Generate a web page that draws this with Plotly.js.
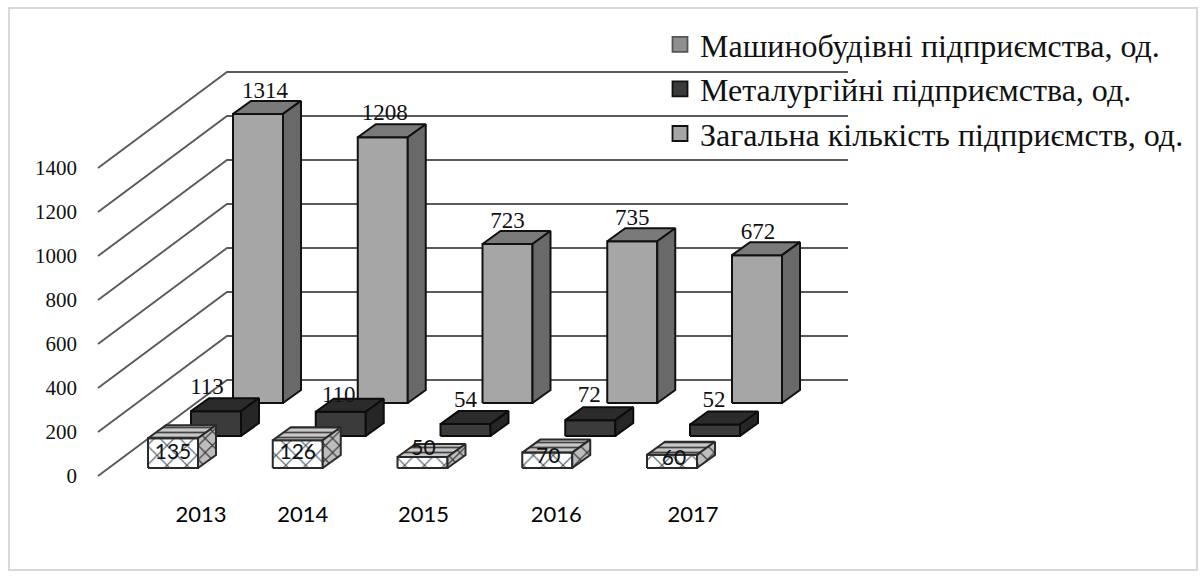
<!DOCTYPE html>
<html><head><meta charset="utf-8">
<script src="https://cdn.plot.ly/plotly-3.0.1.min.js"></script>
<style>html,body{margin:0;padding:0;background:#fff}#c{width:1201px;height:580px}</style>
</head><body><div id="c"></div>
<script>
const years = ['2013','2014','2015','2016','2017'];
const machine = [135,126,50,70,60];
const metal = [113,110,54,72,52];
const total = [1314,1208,723,735,672];
const yTicks = [0,200,400,600,800,1000,1200,1400];
const names = ['Машинобудівні підприємства, од.','Металургійні підприємства, од.','Загальна кількість підприємств, од.'];

// label nudges (pixels) relative to each box
const yearShift = [28,5,1,9,21];
const machineLabelShift = [[0,15],[0,13],[1,-7],[1,5],[2,5]];
const metalLabelShift = [[-18,-10],[-11,-3],[-9,-10],[-10,-11],[-10,-10]];
const totalLabelShift = [[-2,-9],[-7,-10],[-9,-9],[-9,-9],[-8,-9]];

// oblique projection scales
const W=1201,H=580,L=78,B=499;
const pxPerCat=124.75, pxPerVal=0.22, xOrigin=148, yOrigin=476;
const X=p=>(p-xOrigin)/pxPerCat, DX=p=>p/pxPerCat, DY=p=>p/pxPerVal;
const boxW=50, depthX=18, depthY=13;
const seriesOffset=[[0,8],[43,40],[85,73]]; // floor position of each row

function faces(vals,row){
  const f={front:{x:[],y:[]},top:{x:[],y:[]},side:{x:[],y:[]}};
  const [ox,oy]=seriesOffset[row];
  const push=(o,pts)=>{pts.forEach(p=>{o.x.push(p[0]);o.y.push(p[1]);});o.x.push(null);o.y.push(null);};
  vals.forEach((v,i)=>{
    const x0=i+DX(ox), x1=x0+DX(boxW), xd=DX(depthX), yb=DY(oy), yd=DY(depthY);
    const b=yb, t=yb+v;
    push(f.front,[[x0,b],[x1,b],[x1,t],[x0,t],[x0,b]]);
    push(f.top,[[x0,t],[x1,t],[x1+xd,t+yd],[x0+xd,t+yd],[x0,t]]);
    push(f.side,[[x1,b],[x1+xd,b+yd],[x1+xd,t+yd],[x1,t],[x1,b]]);
  });
  return f;
}
function faceTrace(o,color,lineColor,pattern){
  const t={x:o.x,y:o.y,mode:'lines',fill:'toself',fillcolor:color,line:{color:lineColor,width:2},
    showlegend:false,hoverinfo:'skip',type:'scatter'};
  if(pattern) t.fillpattern=pattern;
  return t;
}
// wall and floor grid
const gx=[],gy=[];
yTicks.forEach(v=>{
  gx.push(X(98),X(227),X(848),null);
  gy.push(v,v+DY(96),v+DY(96),null);
});
const traces=[];
// legend entries
const swatch=['#8f8f8f','#3b3b3b','#a6a6a6'];
names.forEach((n,i)=>traces.push({x:[null],y:[null],type:'scatter',mode:'markers',name:n,legendgroup:'g'+i,
  marker:{symbol:'square',size:15,color:swatch[i],line:{color:i===0?'#555':'#111',width:1.8}}}));
traces.push({x:gx,y:gy,mode:'lines',line:{color:'#5a5a5a',width:1.9},showlegend:false,hoverinfo:'skip',type:'scatter'});

const fT=faces(total,2), fM=faces(metal,1), fG=faces(machine,0);
traces.push(faceTrace(fT.front,'#a6a6a6','#111'),faceTrace(fT.top,'#7a7a7a','#111'),faceTrace(fT.side,'#696969','#111'));
traces.push(faceTrace(fM.front,'#3b3b3b','#0c0c0c'),faceTrace(fM.top,'#2b2b2b','#0c0c0c'),faceTrace(fM.side,'#262626','#0c0c0c'));
traces.push(
  faceTrace(fG.front,'#ffffff','#2a2a2a',{shape:'x',bgcolor:'#ffffff',fgcolor:'#44546a',size:14,solidity:0.16}),
  faceTrace(fG.top,'#c4c4c4','#2a2a2a',{shape:'-',bgcolor:'#c8c8c8',fgcolor:'#444444',size:5,solidity:0.35}),
  faceTrace(fG.side,'#bdbdbd','#2a2a2a',{shape:'x',bgcolor:'#bdbdbd',fgcolor:'#3a3a3a',size:10,solidity:0.22})
);
function labelTrace(vals,row,shift,font,anchor){
  const [ox,oy]=seriesOffset[row];
  return {type:'scatter',mode:'text',showlegend:false,hoverinfo:'skip',cliponaxis:false,
    x:vals.map((v,i)=>i+DX(ox+boxW/2+(anchor?depthX/2:0)+shift[i][0])),
    y:vals.map((v,i)=>DY(oy+(anchor?depthY:0)-shift[i][1])+v),
    text:vals.map(String),textposition:'middle center',textfont:font};
}
const serif={family:'"Liberation Serif",serif',size:23,color:'#111'};
traces.push(labelTrace(total,2,totalLabelShift,serif,true));
traces.push(labelTrace(metal,1,metalLabelShift,serif,true));
traces.push(labelTrace(machine,0,machineLabelShift,{family:'Lato,sans-serif',size:21,color:'#111'},false));

const layout={
  width:W,height:H,margin:{l:L,r:0,t:0,b:H-B,pad:0},paper_bgcolor:'#fff',plot_bgcolor:'rgba(0,0,0,0)',
  xaxis:{range:[X(L),X(W)],showgrid:false,zeroline:false,showline:false,ticks:'',
    tickmode:'array',tickvals:years.map((y,i)=>i+DX(boxW/2+yearShift[i])),ticktext:years,
    tickangle:0,tickfont:{family:'Lato,sans-serif',size:22,color:'#000'},fixedrange:true},
  yaxis:{range:[(yOrigin-B)/pxPerVal,yOrigin/pxPerVal],showgrid:false,zeroline:false,showline:false,ticks:'',
    tickmode:'array',tickvals:yTicks,ticktext:yTicks.map(String),
    tickfont:{family:'"Liberation Serif",serif',size:21,color:'#111'},fixedrange:true},
  legend:{x:(660-L)/(W-L),y:1-17/B,xanchor:'left',yanchor:'top',bgcolor:'rgba(0,0,0,0)',borderwidth:0,
    font:{family:'"Liberation Serif",serif',size:32,color:'#111'},itemwidth:30,tracegroupgap:5,traceorder:'normal',
    itemclick:false,itemdoubleclick:false},
  shapes:[{type:'rect',xref:'paper',yref:'paper',layer:'below',
    x0:(9-L)/(W-L),x1:(1197-L)/(W-L),y0:1-570/B,y1:1-8/B,line:{color:'#d9d9d9',width:2},fillcolor:'rgba(0,0,0,0)'}],
  showlegend:true
};
Plotly.newPlot('c',traces,layout,{displayModeBar:false});
</script></body></html>
